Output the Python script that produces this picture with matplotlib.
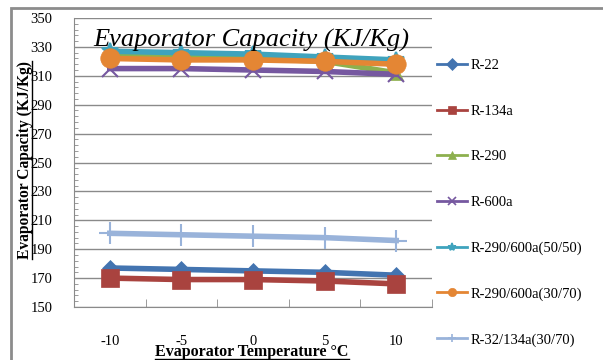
import matplotlib.pyplot as plt
from matplotlib.lines import Line2D
from matplotlib.patches import Rectangle
import numpy as np

plt.rcParams['font.family'] = ['Liberation Serif', 'DejaVu Serif']

# evaporator temperature and capacity of each refrigerant
temps = [-10, -5, 0, 5, 10]
r22 = [177, 176, 175, 174, 172]
r134a = [170, 169, 169, 168, 166]
r290 = [324, 323, 322, 320, 312]
r600a = [315, 315, 314, 313, 311]
r290_600a_50 = [327, 326, 325, 323, 321]
r290_600a_30 = [322, 321, 321, 320, 318]
r32_134a = [201, 200, 199, 198, 196]

names = ['R-22', 'R-134a', 'R-290', 'R-600a', 'R-290/600a(50/50)',
         'R-290/600a(30/70)', 'R-32/134a(30/70)']
series = [r22, r134a, r290, r600a, r290_600a_50, r290_600a_30, r32_134a]
colors = ['#4374B0', '#A9433F', '#8DB04E', '#7658A0', '#3FA3BD', '#E48634', '#99B3DA']
markers = ['D', 's', '^', 'x', '*', 'o', '+']
msizes = [8, 13, 10, 12, 12, 14, 16]

fig = plt.figure(figsize=(6.03, 3.6), dpi=100)
ax = fig.add_axes([74 / 603, 1 - 307 / 360, 358 / 603, 289 / 360])

x = np.arange(len(temps))
for s, c, m, ms in zip(series, colors, markers, msizes):
    ax.plot(x, s, color=c, lw=4, marker=m, markersize=ms,
            markeredgewidth=1.5 if m in 'x+*' else 0.5, markeredgecolor=c)

ax.set_xlim(-0.5, len(temps) - 0.5)
ax.set_ylim(150, 350)
ax.set_yticks(np.arange(150, 351, 20))
ax.set_yticks(np.arange(150, 351, 4), minor=True)
ax.set_xticks(x)
ax.set_xticklabels([str(t) for t in temps])
ax.set_xticks(np.arange(0.5, len(temps), 1), minor=True)
ax.grid(axis='y', which='major', color='#8a8a8a', lw=1)
ax.tick_params(axis='x', which='major', length=0, pad=20, labelsize=10.5)
ax.tick_params(axis='x', which='minor', length=6, direction='in', color='#8a8a8a')
ax.tick_params(axis='y', which='major', length=0, pad=15.5, labelsize=10.5)
ax.tick_params(axis='y', which='minor', length=3, direction='in', color='#8a8a8a')
for side in ['top', 'right']:
    ax.spines[side].set_visible(False)
for side in ['left', 'bottom']:
    ax.spines[side].set_color('#8a8a8a')

ax.text(93 / 603, 1 - 40 / 360, 'Evaporator Capacity (KJ/Kg)', transform=fig.transFigure,
        fontsize=19, style='italic', va='center', ha='left')

xl = fig.text(252 / 603, 1 - 352 / 360, 'Evaporator Temperature \u00b0C', fontsize=11.5,
              fontweight='bold', ha='center', va='center')
yl = fig.text(25 / 603, 1 - 160 / 360, 'Evaporator Capacity (KJ/Kg)', fontsize=11.2,
              fontweight='bold', ha='center', va='center', rotation=90)

# legend with thin lines and small markers
handles = [Line2D([], [], color=c, lw=2, marker=m, markersize=6,
                  markeredgewidth=1.2 if m in 'x+*' else 0.5, markeredgecolor=c)
           for c, m in zip(colors, markers)]
fig.legend(handles, names, loc='upper left', bbox_to_anchor=(437 / 603, 1 - 59 / 360),
           frameon=False, fontsize=10.5, handlelength=2.05, handletextpad=0.25,
           labelspacing=2.22, borderaxespad=0, borderpad=0)

# outer chart border
fig.add_artist(Rectangle((11 / 603, -0.1), 1.2, 1 - 8 / 360 + 0.1, transform=fig.transFigure,
                         fill=False, edgecolor='#8c8c8c', lw=2))

# underline the axis labels
fig.canvas.draw()
r = fig.canvas.get_renderer()
bx = xl.get_window_extent(r)
fig.add_artist(Line2D([bx.x0, bx.x1], [bx.y0 + 1, bx.y0 + 1], color='black', lw=1,
                      transform=None))
by = yl.get_window_extent(r)
fig.add_artist(Line2D([by.x1 - 1, by.x1 - 1], [by.y0, by.y1], color='black', lw=1,
                      transform=None))

fig.savefig('out.png', dpi=100)
